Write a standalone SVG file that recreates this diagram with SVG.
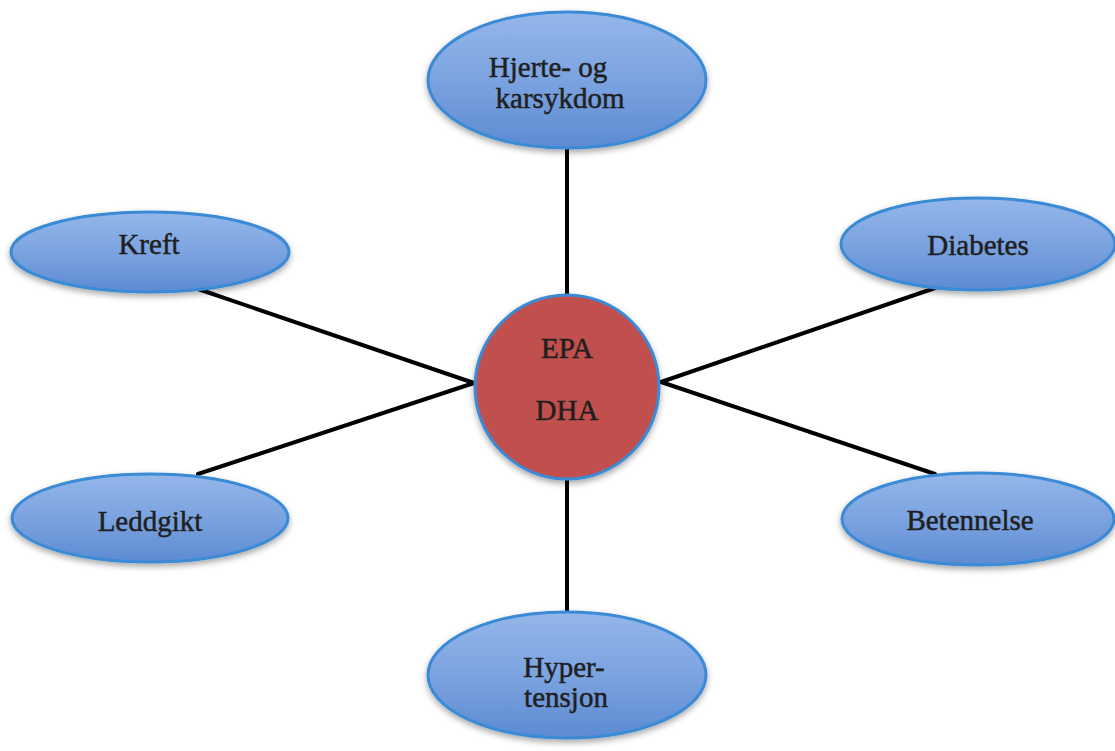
<svg xmlns="http://www.w3.org/2000/svg" width="1115" height="751" viewBox="0 0 1115 751">
<defs>
<linearGradient id="blue" x1="0" y1="0" x2="0" y2="1">
<stop offset="0" stop-color="#94b7ea"/>
<stop offset="0.5" stop-color="#7ba3e0"/>
<stop offset="1" stop-color="#5d8bd2"/>
</linearGradient>
<filter id="sh" x="-10%" y="-10%" width="120%" height="130%">
<feDropShadow dx="0" dy="3" stdDeviation="3" flood-color="#000" flood-opacity="0.35"/>
</filter>
</defs>
<style>
.leaf{fill:url(#blue);stroke:#3b8ad6;stroke-width:3;filter:url(#sh)}
.hub{fill:#c0504d;stroke:#3b8ad6;stroke-width:3;filter:url(#sh)}
.t{font-family:"Liberation Serif","DejaVu Serif",serif;font-size:29px;fill:#1f1f1f;stroke:#1f1f1f;stroke-width:0.5;text-anchor:middle}
.c line{stroke:#000;stroke-width:4;stroke-linecap:round}
</style>
<rect width="1115" height="751" fill="#fff"/>
<g id="connectors" class="c">
<line x1="567" y1="148" x2="567" y2="296"/>
<line x1="567" y1="478" x2="567" y2="612"/>
<line x1="198" y1="289" x2="474" y2="383"/>
<line x1="198" y1="474" x2="474" y2="383"/>
<line x1="661" y1="382" x2="935" y2="288"/>
<line x1="661" y1="382" x2="935" y2="474"/>
</g>
<g id="n-hjerte">
<ellipse class="leaf" cx="567" cy="80" rx="139" ry="68"/>
<text class="t" x="548" y="77">Hjerte- og</text>
<text class="t" x="560" y="108">karsykdom</text>
</g>
<g id="n-kreft">
<ellipse class="leaf" cx="150" cy="252" rx="139" ry="40"/>
<text class="t" x="149" y="254">Kreft</text>
</g>
<g id="n-diabetes">
<ellipse class="leaf" cx="978" cy="244" rx="137" ry="46"/>
<text class="t" x="978" y="255">Diabetes</text>
</g>
<g id="n-leddgikt">
<ellipse class="leaf" cx="150" cy="518" rx="138" ry="44"/>
<text class="t" x="150" y="531">Leddgikt</text>
</g>
<g id="n-betennelse">
<ellipse class="leaf" cx="978" cy="519" rx="136" ry="46"/>
<text class="t" x="970" y="530">Betennelse</text>
</g>
<g id="n-hyper">
<ellipse class="leaf" cx="567" cy="675" rx="139" ry="63"/>
<text class="t" x="564" y="677">Hyper-</text>
<text class="t" x="566" y="707">tensjon</text>
</g>
<g id="n-center">
<circle class="hub" cx="567" cy="387" r="92"/>
<text class="t" x="567" y="358">EPA</text>
<text class="t" x="567" y="420">DHA</text>
</g>
</svg>
